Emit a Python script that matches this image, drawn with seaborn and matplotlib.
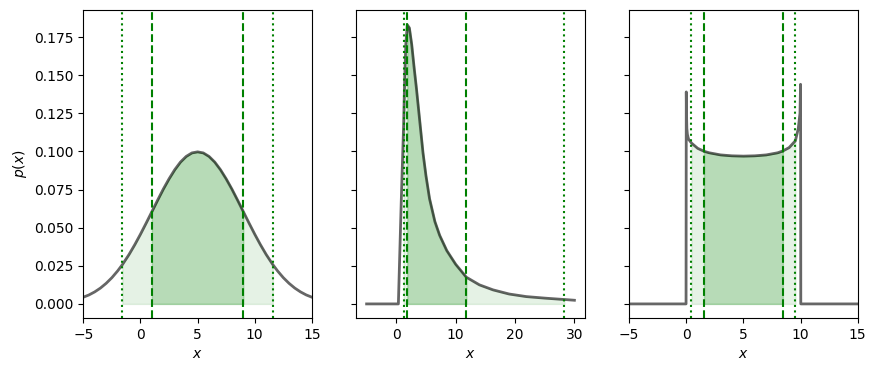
import numpy as np
import matplotlib
matplotlib.use("Agg")
import matplotlib.pyplot as plt
import seaborn as sns

# =========================
# DATA
# =========================
# panel 1 - bell shaped density
x1 = [-5, -4.5, -4, -3.5, -3, -2.5, -2, -1.58, -1, -0.5, 0, 0.5, 1, 1.5, 2, 2.5, 3, 3.5,
      4, 4.5, 5, 5.5, 6, 6.5, 7, 7.5, 8, 8.5, 9, 9.5, 10, 10.5, 11, 11.58, 12, 12.5,
      13, 13.5, 14, 14.5, 15]
p1 = [0.0044, 0.0059, 0.0079, 0.0104, 0.0135, 0.0172, 0.0216, 0.0258, 0.0324, 0.0388,
      0.0457, 0.0530, 0.0605, 0.0680, 0.0753, 0.0820, 0.0880, 0.0930, 0.0967, 0.0990,
      0.0997, 0.0990, 0.0967, 0.0930, 0.0880, 0.0820, 0.0753, 0.0680, 0.0605, 0.0530,
      0.0457, 0.0388, 0.0324, 0.0258, 0.0216, 0.0172, 0.0135, 0.0104, 0.0079, 0.0059,
      0.0044]
inner1 = (1.0, 9.0)
outer1 = (-1.58, 11.58)

# panel 2 - skewed density with long right tail
x2 = [-5, 0.35, 0.84, 1.23, 1.4, 1.6, 1.85, 2.2, 2.6, 3.0, 3.4, 4.0, 4.5, 5.0, 5.6,
      6.5, 7.3, 8.5, 10.0, 11.8, 14.0, 16.3, 19.0, 21.9, 25.0, 27.5, 28.3, 30.0]
p2 = [0.0, 0.0, 0.068, 0.117, 0.146, 0.170, 0.183, 0.181, 0.170, 0.155, 0.141, 0.118,
      0.099, 0.084, 0.069, 0.054, 0.045, 0.035, 0.026, 0.0175, 0.0125, 0.0092, 0.0065,
      0.0048, 0.0038, 0.0031, 0.0029, 0.0024]
inner2 = (1.85, 11.8)
outer2 = (1.23, 28.3)

# panel 3 - flat density on [0, 10] with edge spikes
x3 = [-5, -0.02, 0.0, 0.02, 0.05, 0.1, 0.2, 0.45, 1.0, 1.55, 2, 3, 4, 5, 6, 7, 8,
      8.45, 9.0, 9.55, 9.8, 9.95, 10.0, 10.02, 15]
p3 = [0.0, 0.0, 0.139, 0.125, 0.115, 0.111, 0.108, 0.1055, 0.102, 0.1001, 0.0991,
      0.0977, 0.0971, 0.0969, 0.0971, 0.0977, 0.0991, 0.1003, 0.1025, 0.107, 0.115,
      0.125, 0.144, 0.0, 0.0]
inner3 = (1.55, 8.45)
outer3 = (0.45, 9.55)

panels = [
    (x1, p1, inner1, outer1, (-5, 15)),
    (x2, p2, inner2, outer2, None),
    (x3, p3, inner3, outer3, (-5, 15)),
]

# =========================
# PLOT
# =========================
fig, axes = plt.subplots(1, 3, figsize=(8.77, 3.71), dpi=100, sharey=True)
fig.subplots_adjust(left=0.095, right=0.978, top=0.973, bottom=0.143, wspace=0.194)

for ax, (x, p, inner, outer, xlim) in zip(axes, panels):
    x = np.array(x)
    p = np.array(p)

    ax.fill_between(x, 0, p, where=(x >= outer[0]) & (x <= outer[1]),
                    color="green", alpha=0.1)
    ax.fill_between(x, 0, p, where=(x >= inner[0]) & (x <= inner[1]),
                    color="green", alpha=0.2)

    sns.lineplot(x=x, y=p, ax=ax, color="k", alpha=0.6, lw=2,
                 estimator=None, sort=False)

    for v in inner:
        ax.axvline(v, color="green", ls="--", lw=1.5)
    for v in outer:
        ax.axvline(v, color="green", ls=":", lw=1.5)

    if xlim is not None:
        ax.set_xlim(*xlim)
    ax.set_xlabel("$x$")

axes[0].set_ylim(-0.0092, 0.1927)
axes[0].set_yticks(np.arange(0, 0.176, 0.025))
axes[0].set_ylabel("$p(x)$")

plt.savefig("out.png", dpi=100)
